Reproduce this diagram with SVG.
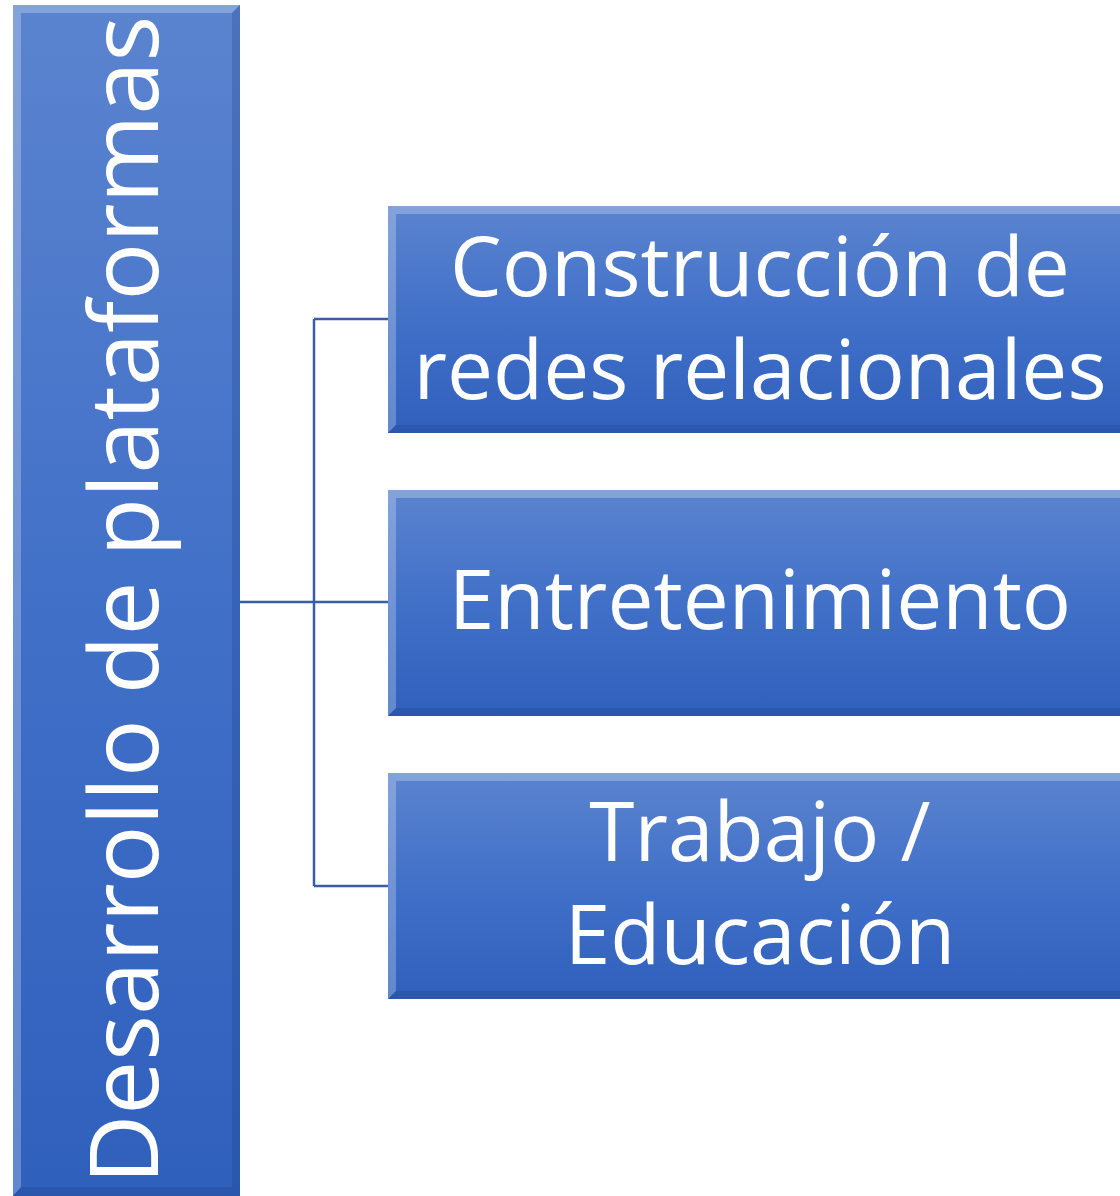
<svg xmlns="http://www.w3.org/2000/svg" width="1120" height="1196" viewBox="0 0 1120 1196">
<defs>
<linearGradient id="g" x1="0" y1="0" x2="0" y2="1">
<stop offset="0" stop-color="#5b84cf"/>
<stop offset="0.5" stop-color="#4170c8"/>
<stop offset="1" stop-color="#2f60bc"/>
</linearGradient>
</defs>
<style>
.t{font-family:"Open Sans","Noto Sans",sans-serif;fill:#ffffff;text-anchor:middle}
.c{fill:none;stroke:#3a5ea6;stroke-width:2.5}
.hi{fill:#ffffff;opacity:0.25}
.sh{fill:#1a3c80;opacity:0.25}
</style>
<g id="connectors">
<path class="c" d="M240 602 H388 M314 319 V886 M314 319 H388 M314 886 H388"/>
</g>
<g id="root">
<rect x="13" y="5" width="227" height="1191" fill="url(#g)"/>
<polygon class="hi" points="13,5 240,5 232,13 21,13"/>
<polygon class="hi" points="13,5 21,13 21,1187 13,1196"/>
<polygon class="sh" points="240,5 240,1196 232,1187 232,13"/>
<polygon class="sh" points="13,1196 21,1187 232,1187 240,1196"/>
<text class="t" transform="translate(158,600) rotate(-90)" x="0" y="0" font-size="96">Desarrollo de plataformas</text>
</g>
<g id="n1">
<rect x="388" y="206" width="744" height="227" fill="url(#g)"/>
<polygon class="hi" points="388,206 1132,206 1124,214 396,214"/>
<polygon class="hi" points="388,206 396,214 396,425 388,433"/>
<polygon class="sh" points="388,433 396,425 1124,425 1132,433"/>
<text class="t" font-size="82" x="760" y="296">Construcción de</text>
<text class="t" font-size="82" x="760" y="399">redes relacionales</text>
</g>
<g id="n2">
<rect x="388" y="490" width="744" height="226" fill="url(#g)"/>
<polygon class="hi" points="388,490 1132,490 1124,498 396,498"/>
<polygon class="hi" points="388,490 396,498 396,708 388,716"/>
<polygon class="sh" points="388,716 396,708 1124,708 1132,716"/>
<text class="t" font-size="82" x="760" y="629">Entretenimiento</text>
</g>
<g id="n3">
<rect x="388" y="773" width="744" height="226" fill="url(#g)"/>
<polygon class="hi" points="388,773 1132,773 1124,781 396,781"/>
<polygon class="hi" points="388,773 396,781 396,991 388,999"/>
<polygon class="sh" points="388,999 396,991 1124,991 1132,999"/>
<text class="t" font-size="82" x="760" y="861">Trabajo /</text>
<text class="t" font-size="82" x="760" y="964">Educación</text>
</g>
</svg>
